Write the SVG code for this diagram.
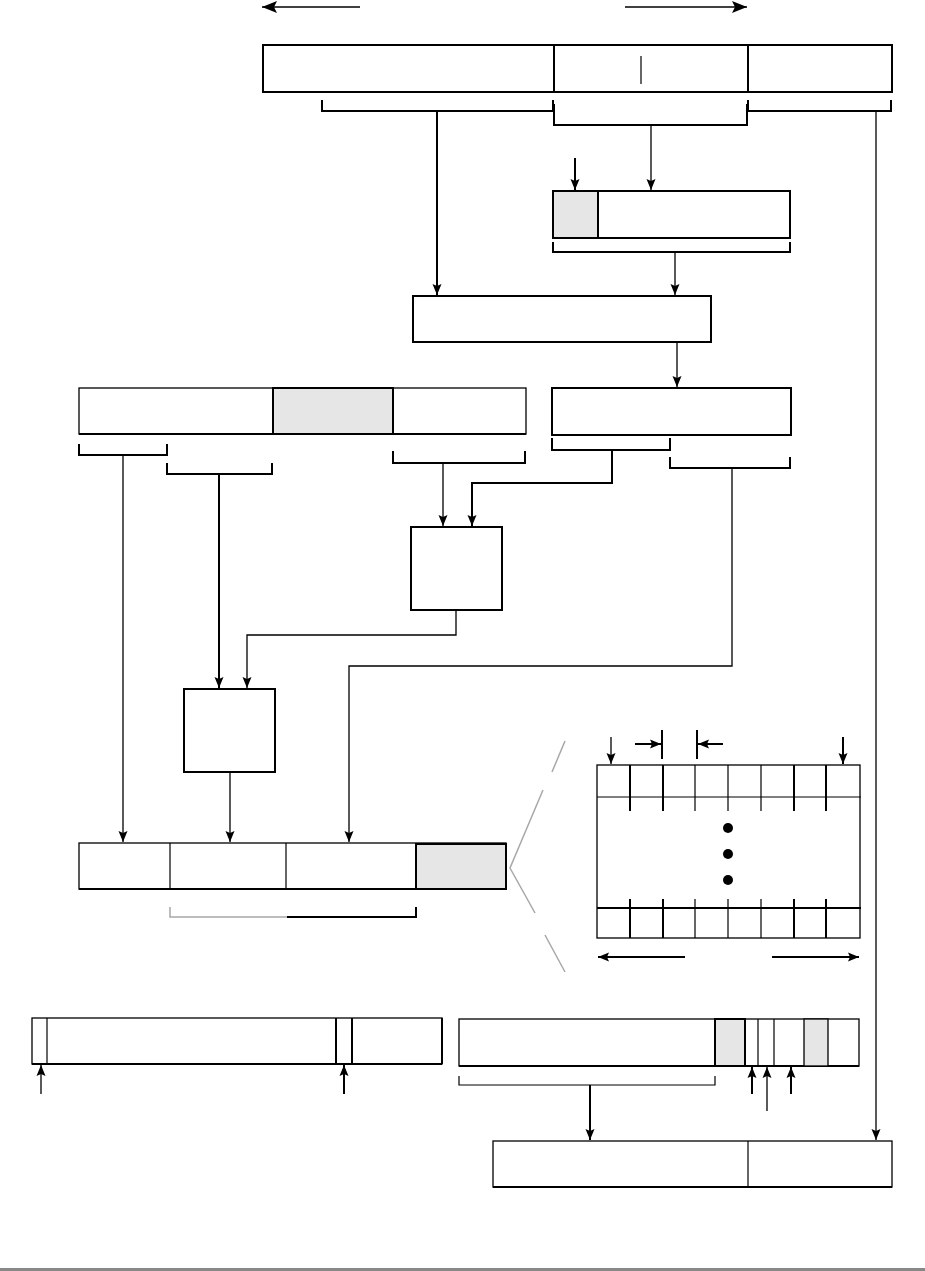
<svg xmlns="http://www.w3.org/2000/svg" width="925" height="1271" viewBox="0 0 925 1271">
<style>
.box{fill:#fff;stroke:#000;stroke-width:2}
.bar{fill:#fff;stroke:#000;stroke-width:1.3}
.shade{fill:#e6e6e6;stroke:#000;stroke-width:2}
.div{stroke:#000;stroke-width:2;fill:none}
.dv1{stroke:#000;stroke-width:1.2;fill:none}
.c{fill:none;stroke:#000;stroke-width:1.3}
.ct{fill:none;stroke:#000;stroke-width:2}
.br{fill:none;stroke:#000;stroke-width:2}
.gray{fill:none;stroke:#a8a8a8;stroke-width:1.5}
</style>
<defs>
<marker id="ah" markerUnits="userSpaceOnUse" markerWidth="12" markerHeight="10" viewBox="0 0 12 10" refX="11" refY="5" orient="auto">
<path d="M0,0.5 L11,5 L0,9.5 L2,5 z" fill="#000"/>
</marker>
<marker id="ahL" markerUnits="userSpaceOnUse" markerWidth="16" markerHeight="14" viewBox="0 0 16 14" refX="15" refY="7" orient="auto">
<path d="M0,1 L15,7 L0,13 L3,7 z" fill="#000"/>
</marker>
</defs>
<rect width="925" height="1271" fill="#fff"/>

<g id="top-arrows">
<path class="c" d="M360,7 H262" marker-end="url(#ahL)"/>
<path class="c" d="M625,7 H747" marker-end="url(#ahL)"/>
</g>

<g id="box-top">
<rect class="box" x="263" y="45" width="629" height="47"/>
<path class="div" d="M554,45 V92 M748,45 V92"/>
<path class="dv1" d="M641,56 V84"/>
</g>

<g id="box-2">
<rect class="box" x="553" y="191" width="237" height="47"/>
<rect class="shade" x="553" y="191" width="45" height="47"/>
</g>

<g id="box-3">
<rect class="box" x="413" y="296" width="298" height="46"/>
</g>

<g id="box-4">
<rect class="box" x="552" y="388" width="239" height="47"/>
</g>

<g id="box-5">
<rect class="bar" x="79" y="388" width="447" height="46"/>
<path class="div" d="M79,434 H526"/>
<rect class="shade" x="273" y="388" width="120" height="46"/>
</g>

<g id="box-7">
<rect class="box" x="411" y="527" width="91" height="83"/>
</g>

<g id="box-6">
<rect class="box" x="184" y="689" width="91" height="83"/>
</g>

<g id="box-8">
<rect class="bar" x="79" y="843" width="427" height="46"/>
<path class="div" d="M79,889 H416"/>
<path class="dv1" d="M170,843 V889 M286,843 V889"/>
<rect class="shade" x="416" y="844" width="90" height="45"/>
</g>

<g id="grid">
<rect class="bar" x="597" y="765" width="263" height="173"/>
<path class="dv1" d="M597,797 H861"/>
<path class="div" d="M597,908 H861"/>
<path class="div" d="M630,765 V811 M663,765 V811 M794,765 V811 M826,765 V811"/>
<path class="dv1" d="M695,765 V811 M728,765 V811 M761,765 V811"/>
<path class="div" d="M630,899 V938 M663,899 V938 M794,899 V938 M826,899 V938"/>
<path class="dv1" d="M695,899 V938 M728,899 V938 M761,899 V938"/>
<circle cx="728" cy="828" r="5"/>
<circle cx="728" cy="854" r="5"/>
<circle cx="728" cy="880" r="5"/>
<path class="c" d="M611,737 V764" marker-end="url(#ah)"/>
<path class="ct" d="M843,737 V764" marker-end="url(#ah)"/>
<path class="ct" d="M662,730 V759 M697,730 V759"/>
<path class="ct" d="M635,744 H661" marker-end="url(#ah)"/>
<path class="ct" d="M723,744 H698" marker-end="url(#ah)"/>
<path class="ct" d="M685,957 H598" marker-end="url(#ah)"/>
<path class="ct" d="M772,957 H859" marker-end="url(#ah)"/>
</g>

<g id="box-bl">
<rect class="bar" x="32" y="1018" width="410" height="46"/>
<path class="div" d="M32,1064 H442 M442,1018 V1064"/>
<path class="dv1" d="M47,1018 V1064"/>
<path class="div" d="M336,1018 V1064 M352,1018 V1064"/>
</g>

<g id="box-br">
<rect class="bar" x="459" y="1019" width="400" height="47"/>
<path class="div" d="M459,1066 H859"/>
<rect class="shade" x="715" y="1019" width="30" height="47"/>
<rect class="shade" x="804" y="1019" width="24" height="47" style="stroke-width:1.3"/>
<path class="dv1" d="M758,1019 V1066 M774,1019 V1066"/>
</g>

<g id="box-bottom">
<rect class="bar" x="493" y="1141" width="399" height="46"/>
<path class="div" d="M493,1187 H892"/>
<path class="dv1" d="M748,1141 V1187"/>
</g>

<g id="connectors">
<path class="br" d="M322,100 V111 H553 V100"/>
<path class="ct" d="M437,111 V295" marker-end="url(#ah)"/>
<path class="br" d="M554,104 V125 H747 V104"/>
<path class="c" d="M651,125 V190" marker-end="url(#ah)"/>
<path class="br" d="M748,100 V111 H891 V100"/>
<path class="c" d="M876,111 V1140" marker-end="url(#ah)"/>
<path class="ct" d="M575,158 V190" marker-end="url(#ah)"/>
<path class="br" d="M553,242 V252 H790 V242"/>
<path class="c" d="M675,252 V295" marker-end="url(#ah)"/>
<path class="c" d="M677,342 V387" marker-end="url(#ah)"/>
<path class="br" d="M552,438 V450 H670 V438"/>
<path class="ct" d="M612,450 V483 H472 V526" marker-end="url(#ah)"/>
<path class="br" d="M670,457 V468 H790 V457"/>
<path class="c" d="M732,468 V666 H349 V842" marker-end="url(#ah)"/>
<path class="br" d="M79,444 V455 H167 V444"/>
<path class="c" d="M123,455 V842" marker-end="url(#ah)"/>
<path class="br" d="M167,463 V474 H272 V463"/>
<path class="ct" d="M219,474 V688" marker-end="url(#ah)"/>
<path class="br" d="M393,451 V463 H525 V451"/>
<path class="c" d="M443,463 V526" marker-end="url(#ah)"/>
<path class="c" d="M456,610 V635 H247 V688" marker-end="url(#ah)"/>
<path class="c" d="M230,772 V842" marker-end="url(#ah)"/>
<path class="gray" d="M170,907 V917 H287"/>
<path class="br" d="M287,917 H416 V907"/>
<path class="gray" d="M565,741 L552,772 M543,790 L510,868 L535,913 M545,935 L565,972"/>
<path class="c" d="M41,1094 V1065" marker-end="url(#ah)"/>
<path class="ct" d="M344,1094 V1065" marker-end="url(#ah)"/>
<path class="dv1" d="M459,1076 V1085 H715 V1076"/>
<path class="ct" d="M590,1085 V1140" marker-end="url(#ah)"/>
<path class="ct" d="M752,1094 V1067" marker-end="url(#ah)"/>
<path class="c" d="M767,1111 V1067" marker-end="url(#ah)"/>
<path class="ct" d="M791,1094 V1067" marker-end="url(#ah)"/>
</g>

<rect x="0" y="1268" width="925" height="3" fill="#888"/>
</svg>
